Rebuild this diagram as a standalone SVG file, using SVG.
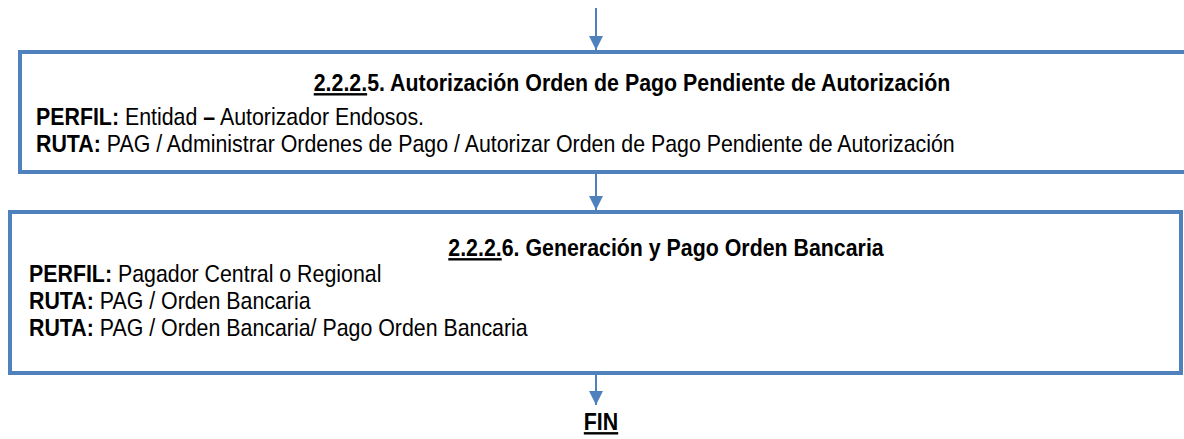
<svg xmlns="http://www.w3.org/2000/svg" width="1184" height="439" viewBox="0 0 1184 439">
<style>
.box{fill:#fff;stroke:#4f81bd;stroke-width:4}
.t{font-family:"Liberation Sans Narrow","Arial Narrow","Liberation Sans",Arial,sans-serif;font-size:24px;fill:#000}
.b{font-weight:bold}
.c{stroke:#4f81bd;stroke-width:2;fill:none}
</style>
<defs>
<marker id="ah" viewBox="0 0 10 10" refX="10" refY="5" markerWidth="14" markerHeight="14" orient="auto" markerUnits="userSpaceOnUse"><path d="M0,0 L10,5 L0,10 Z" fill="#4f81bd"/></marker>
</defs>
<g id="connectors">
<line class="c" x1="596" y1="8" x2="596" y2="50" marker-end="url(#ah)"/>
<line class="c" x1="596" y1="174" x2="596" y2="210" marker-end="url(#ah)"/>
<line class="c" x1="596" y1="375" x2="596" y2="405" marker-end="url(#ah)"/>
</g>
<g id="node1">
<rect class="box" x="20" y="52" width="1170" height="120"/>
<text class="t b" transform="translate(632,91) scale(0.89,1)" text-anchor="middle"><tspan text-decoration="underline">2.2.2.</tspan>5. Autorización Orden de Pago Pendiente de Autorización</text>
<text class="t" transform="translate(36,125) scale(0.89,1)"><tspan class="b">PERFIL:</tspan> Entidad <tspan class="b">–</tspan> Autorizador Endosos.</text>
<text class="t" transform="translate(36,152) scale(0.89,1)"><tspan class="b">RUTA:</tspan> PAG / Administrar Ordenes de Pago / Autorizar Orden de Pago Pendiente de Autorización</text>
</g>
<g id="node2">
<rect class="box" x="10" y="212" width="1171" height="161"/>
<text class="t b" transform="translate(666,256) scale(0.89,1)" text-anchor="middle"><tspan text-decoration="underline">2.2.2.</tspan>6. Generación y Pago Orden Bancaria</text>
<text class="t" transform="translate(29,282) scale(0.89,1)"><tspan class="b">PERFIL:</tspan> Pagador Central o Regional</text>
<text class="t" transform="translate(29,309) scale(0.89,1)"><tspan class="b">RUTA:</tspan> PAG / Orden Bancaria</text>
<text class="t" transform="translate(29,336) scale(0.89,1)"><tspan class="b">RUTA:</tspan> PAG / Orden Bancaria/ Pago Orden Bancaria</text>
</g>
<g id="fin">
<text class="t b" transform="translate(601,430) scale(0.89,1)" text-anchor="middle" text-decoration="underline">FIN</text>
</g>
</svg>
